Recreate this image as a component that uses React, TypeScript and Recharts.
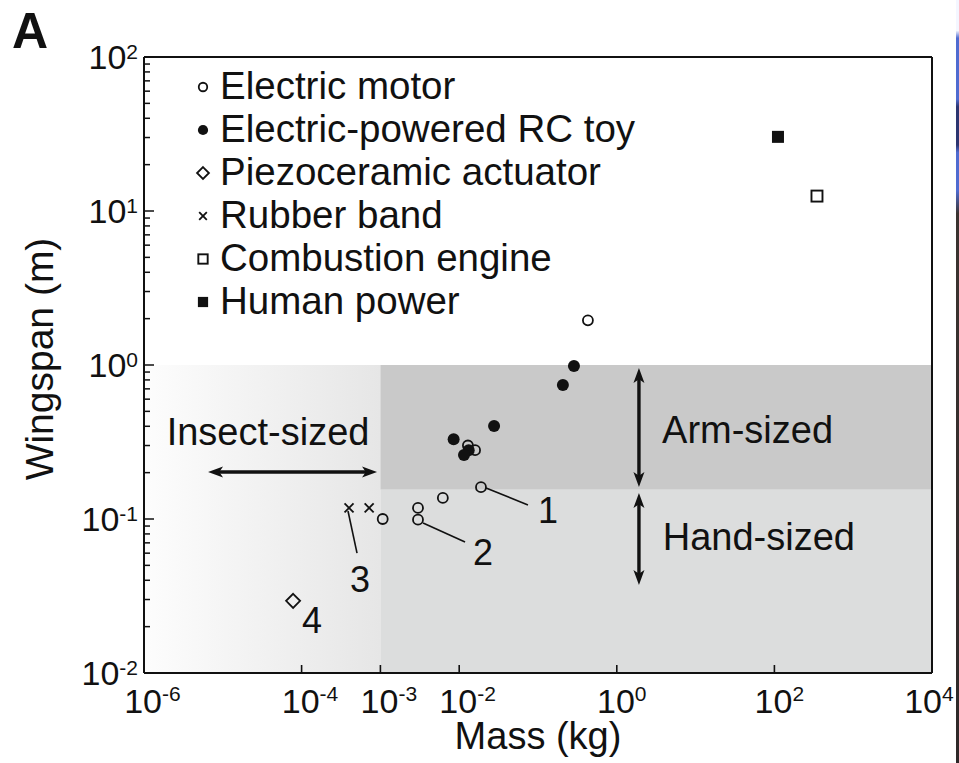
import React from "react"
import {
  ScatterChart,
  Scatter,
  XAxis,
  YAxis,
  ReferenceArea,
  ReferenceLine,
  ReferenceDot,
  Legend,
} from "recharts"

const FONT = "'Liberation Sans', Arial, Helvetica, sans-serif"
const INK = "#111"

// mass (kg) vs wingspan (m)
const electricMotor = [
  { mass: 0.43, span: 1.95 },
  { mass: 0.0129, span: 0.3 },
  { mass: 0.0159, span: 0.28 },
  { mass: 0.0189, span: 0.161 },
  { mass: 0.0062, span: 0.137 },
  { mass: 0.003, span: 0.118 },
  { mass: 0.003, span: 0.099 },
  { mass: 0.00107, span: 0.1 },
]
const rcToy = [
  { mass: 0.286, span: 0.986 },
  { mass: 0.207, span: 0.741 },
  { mass: 0.0277, span: 0.402 },
  { mass: 0.0085, span: 0.33 },
  { mass: 0.0132, span: 0.28 },
  { mass: 0.0115, span: 0.26 },
]
const piezo = [{ mass: 7.8e-5, span: 0.0294 }]
const rubberBand = [
  { mass: 4.0e-4, span: 0.118 },
  { mass: 7.2e-4, span: 0.118 },
]
const combustion = [{ mass: 347, span: 12.5 }]
const humanPower = [{ mass: 111, span: 30.3 }]

const SERIES = [
  { name: "Electric motor", data: electricMotor, marker: "openCircle" },
  { name: "Electric-powered RC toy", data: rcToy, marker: "filledCircle" },
  { name: "Piezoceramic actuator", data: piezo, marker: "diamond" },
  { name: "Rubber band", data: rubberBand, marker: "cross" },
  { name: "Combustion engine", data: combustion, marker: "openSquare" },
  { name: "Human power", data: humanPower, marker: "filledSquare" },
]

const X_TICKS = [1e-6, 1e-4, 1e-3, 1e-2, 1, 1e2, 1e4]
const Y_MAJOR = [0.01, 0.1, 1, 10, 100]
const Y_MINOR = [
  0.02, 0.03, 0.04, 0.05, 0.06, 0.07, 0.08, 0.09,
  0.2, 0.3, 0.4, 0.5, 0.6, 0.7, 0.8, 0.9,
  2, 3, 4, 5, 6, 7, 8, 9,
  20, 30, 40, 50, 60, 70, 80, 90,
]
const Y_TICKS = [...Y_MAJOR, ...Y_MINOR].sort((a, b) => a - b)

// size classes (regions)
const INSECT_MAX = 1e-3
const ARM_MIN = 0.155
const SIZE_TOP = 1

const markerShape = (kind: string, cx: number, cy: number, k = 1) => {
  switch (kind) {
    case "openCircle":
      return <circle cx={cx} cy={cy} r={5 * k} fill="none" stroke={INK} strokeWidth={1.8} />
    case "filledCircle":
      return <circle cx={cx} cy={cy} r={6 * k} fill={INK} />
    case "diamond": {
      const s = 7 * k
      return (
        <polygon
          points={`${cx},${cy - s} ${cx + s},${cy} ${cx},${cy + s} ${cx - s},${cy}`}
          fill="none"
          stroke={INK}
          strokeWidth={1.8}
        />
      )
    }
    case "cross": {
      const s = 4.5 * k
      return (
        <g stroke={INK} strokeWidth={1.8}>
          <line x1={cx - s} y1={cy - s} x2={cx + s} y2={cy + s} />
          <line x1={cx - s} y1={cy + s} x2={cx + s} y2={cy - s} />
        </g>
      )
    }
    case "openSquare": {
      const s = 5.5 * k
      return <rect x={cx - s} y={cy - s} width={2 * s} height={2 * s} fill="none" stroke={INK} strokeWidth={1.9} />
    }
    case "filledSquare": {
      const s = 6 * k
      return <rect x={cx - s} y={cy - s} width={2 * s} height={2 * s} fill={INK} />
    }
  }
  return null
}

const XTick = ({ x, y, payload }: any) => {
  const v = payload.value
  const exp = Math.round(Math.log10(v))
  // the last label is pulled in a little so it stays on the page
  const shift = v >= 1e4 ? 10 : 18
  return (
    <g>
      {v > 1e-6 && v < 1e4 && <line x1={x} x2={x} y1={y} y2={y - 8} stroke={INK} strokeWidth={1.6} />}
      <text x={x + shift} y={y + 40} textAnchor="end" fontSize={34} fontFamily={FONT} fill={INK}>
        10
      </text>
      <text x={x + shift} y={y + 28} textAnchor="start" fontSize={21} fontFamily={FONT} fill={INK}>
        {exp}
      </text>
    </g>
  )
}

const YTick = ({ x, y, payload }: any) => {
  const v = payload.value
  const exp = Math.round(Math.log10(v))
  const major = Math.abs(Math.log10(v) - exp) < 1e-6
  return (
    <g>
      <line x1={x} x2={x + (major ? 10 : 6)} y1={y} y2={y} stroke={INK} strokeWidth={1.5} />
      {major && (
        <text x={x - 6} y={y + 12} textAnchor="end" fontSize={34} fontFamily={FONT} fill={INK}>
          10
          <tspan dy={-10} fontSize={21}>
            {exp}
          </tspan>
        </text>
      )}
    </g>
  )
}

const arrowShape = (p: any) => {
  const { x1, y1, x2, y2 } = p
  const a = Math.atan2(y2 - y1, x2 - x1)
  const L = 15
  const W = 5.5
  const head = (tx: number, ty: number, ang: number) => {
    const bx = tx - L * Math.cos(ang)
    const by = ty - L * Math.sin(ang)
    const nx = -Math.sin(ang) * W
    const ny = Math.cos(ang) * W
    const mx = tx - L * 0.75 * Math.cos(ang)
    const my = ty - L * 0.75 * Math.sin(ang)
    return <polygon points={`${tx},${ty} ${bx + nx},${by + ny} ${mx},${my} ${bx - nx},${by - ny}`} fill={INK} />
  }
  return (
    <g>
      <line
        x1={x1 + 10 * Math.cos(a)}
        y1={y1 + 10 * Math.sin(a)}
        x2={x2 - 10 * Math.cos(a)}
        y2={y2 - 10 * Math.sin(a)}
        stroke={INK}
        strokeWidth={3.4}
      />
      {head(x2, y2, a)}
      {head(x1, y1, a + Math.PI)}
    </g>
  )
}

const textAt = (label: string, size: number, anchor: string = "start") => (p: any) => (
  <text x={p.cx} y={p.cy} fontSize={size} fontFamily={FONT} fill={INK} textAnchor={anchor}>
    {label}
  </text>
)

const LegendBox = () => (
  <div style={{ fontFamily: FONT, fontSize: 38.5, color: INK }}>
    {SERIES.map((s) => (
      <div key={s.name} style={{ position: "relative", height: 43, lineHeight: "43px", whiteSpace: "nowrap" }}>
        <svg width={24} height={43} style={{ position: "absolute", left: 0, top: 0 }}>
          {markerShape(s.marker, 10, 23, 0.85)}
        </svg>
        <span style={{ position: "absolute", left: 27, top: 0 }}>{s.name}</span>
      </div>
    ))}
  </div>
)

const App = () => {
  return (
    <div style={{ position: "absolute", left: 0, top: 0, width: 959, height: 763, background: "#fff" }}>
      <div
        style={{
          position: "absolute",
          left: 12,
          top: 2,
          fontFamily: FONT,
          fontWeight: 700,
          fontSize: 50,
          color: INK,
        }}
      >
        A
      </div>
      <ScatterChart width={959} height={763} margin={{ top: 57, right: 27, bottom: 0, left: 0 }}>
        <XAxis
          type="number"
          dataKey="mass"
          scale="log"
          domain={[1e-6, 1e4]}
          allowDataOverflow
          ticks={X_TICKS}
          interval={0}
          tickSize={0}
          tickMargin={0}
          tickLine={false}
          tick={<XTick />}
          height={90}
          axisLine={{ stroke: INK, strokeWidth: 2 }}
          label={{
            content: ({ viewBox }: any) => (
              <text
                x={viewBox.x + viewBox.width / 2}
                y={viewBox.y + 76}
                textAnchor="middle"
                fontSize={38}
                fontFamily={FONT}
                fill={INK}
              >
                Mass (kg)
              </text>
            ),
          }}
        />
        <YAxis
          type="number"
          dataKey="span"
          scale="log"
          domain={[0.01, 100]}
          allowDataOverflow
          ticks={Y_TICKS}
          interval={0}
          tickSize={0}
          tickMargin={0}
          tickLine={false}
          tick={<YTick />}
          width={144}
          axisLine={{ stroke: INK, strokeWidth: 2 }}
          label={{
            content: ({ viewBox }: any) => {
              const cx = 53
              const cy = viewBox.y + viewBox.height / 2 - 6
              return (
                <text
                  x={cx}
                  y={cy}
                  transform={`rotate(-90 ${cx} ${cy})`}
                  textAnchor="middle"
                  fontSize={39}
                  fontFamily={FONT}
                  fill={INK}
                >
                  Wingspan (m)
                </text>
              )
            },
          }}
        />

        <ReferenceArea
          x1={1e-6}
          x2={INSECT_MAX}
          y1={0.01}
          y2={SIZE_TOP}
          shape={(p: any) => (
            <g>
              <defs>
                <linearGradient id="insectFade" x1="0" y1="0" x2="1" y2="0">
                  <stop offset="0" stopColor="#fdfdfd" />
                  <stop offset="1" stopColor="#e6e6e6" />
                </linearGradient>
              </defs>
              <rect x={p.x} y={p.y} width={p.width} height={p.height} fill="url(#insectFade)" />
            </g>
          )}
        />
        <ReferenceArea x1={INSECT_MAX} x2={1e4} y1={ARM_MIN} y2={SIZE_TOP} fill="#c9c9c9" fillOpacity={1} stroke="none" />
        <ReferenceArea x1={INSECT_MAX} x2={1e4} y1={0.01} y2={ARM_MIN} fill="#dcdddd" fillOpacity={1} stroke="none" />

        <ReferenceLine y={100} stroke={INK} strokeWidth={2} />
        <ReferenceLine x={1e4} stroke={INK} strokeWidth={2} />

        {/* size-class arrows */}
        <ReferenceLine segment={[{ x: 6.5e-6, y: 0.2018 }, { x: 9.06e-4, y: 0.2018 }]} shape={arrowShape} />
        <ReferenceLine segment={[{ x: 1.91, y: 0.956 }, { x: 1.91, y: 0.1615 }]} shape={arrowShape} />
        <ReferenceLine segment={[{ x: 1.91, y: 0.1476 }, { x: 1.91, y: 0.0373 }]} shape={arrowShape} />

        {/* leader lines for numbered examples */}
        <ReferenceLine segment={[{ x: 0.0219, y: 0.159 }, { x: 0.0746, y: 0.1233 }]} stroke={INK} strokeWidth={1.6} />
        <ReferenceLine segment={[{ x: 0.00348, y: 0.0942 }, { x: 0.01186, y: 0.071 }]} stroke={INK} strokeWidth={1.6} />
        <ReferenceLine segment={[{ x: 3.88e-4, y: 0.1127 }, { x: 5.05e-4, y: 0.0601 }]} stroke={INK} strokeWidth={1.6} />

        <ReferenceDot x={3.75e-5} y={0.303} shape={textAt("Insect-sized", 38, "middle")} />
        <ReferenceDot x={3.75} y={0.312} shape={textAt("Arm-sized", 38)} />
        <ReferenceDot x={3.83} y={0.063} shape={textAt("Hand-sized", 38)} />
        <ReferenceDot x={0.1} y={0.0941} shape={textAt("1", 36)} />
        <ReferenceDot x={0.01496} y={0.0502} shape={textAt("2", 36)} />
        <ReferenceDot x={4.11e-4} y={0.0336} shape={textAt("3", 36)} />
        <ReferenceDot x={1.01e-4} y={0.0182} shape={textAt("4", 36)} />

        {SERIES.map((s) => (
          <Scatter
            key={s.name}
            name={s.name}
            data={s.data}
            isAnimationActive={false}
            shape={(p: any) => markerShape(s.marker, p.cx, p.cy)}
          />
        ))}

        <Legend
          layout="vertical"
          align="center"
          verticalAlign="middle"
          content={() => <LegendBox />}
          wrapperStyle={{ left: 193, top: 64, width: "auto", height: "auto" }}
        />
      </ScatterChart>
      <div
        style={{
          position: "absolute",
          left: 956,
          top: 0,
          width: 3,
          height: 763,
          background:
            "linear-gradient(#f4f6ff 0%, #f4f6ff 4%, #4f6bd0 5%, #4f6bd0 13%, #2c3570 14%, #2c3570 19%, #4f6bd0 20%, #4f6bd0 25%, #3b3330 28%, #2e2828 100%)",
        }}
      />
    </div>
  )
}

export default App
